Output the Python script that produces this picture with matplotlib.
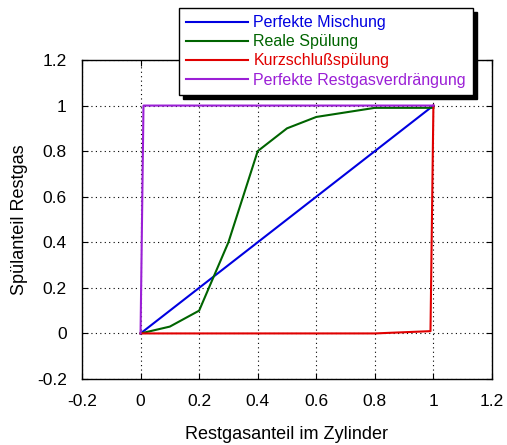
import matplotlib
matplotlib.use("Agg")
import matplotlib.pyplot as plt
import numpy as np
from matplotlib.ticker import FuncFormatter

plt.rcParams["font.family"] = ["Liberation Sans", "DejaVu Sans"]

# data
mix_x = [0, 1]
mix_y = [0, 1]
real_x = [0, 0.1, 0.2, 0.3, 0.4, 0.5, 0.6, 0.7, 0.8, 1.0]
real_y = [0, 0.03, 0.1, 0.4, 0.8, 0.9, 0.95, 0.97, 0.99, 0.99]
short_x = [0, 0.8, 0.99, 1.0]
short_y = [0, 0, 0.01, 1.0]
displ_x = [0, 0.01, 1.0]
displ_y = [0, 1.0, 1.0]
ticks = [-0.2, 0, 0.2, 0.4, 0.6, 0.8, 1, 1.2]

fig = plt.figure(figsize=(5.07, 4.45), dpi=100)
ax = fig.add_axes([0.1617, 0.1483, 0.8087, 0.7169])

l1, = ax.plot(mix_x, mix_y, color="#0000e0", lw=1.5, label="Perfekte Mischung")
l2, = ax.plot(real_x, real_y, color="#006400", lw=1.5, label="Reale Spülung")
l3, = ax.plot(short_x, short_y, color="#e00000", lw=1.5, label="Kurzschlußspülung")
l4, = ax.plot(displ_x, displ_y, color="#9b1fd6", lw=1.5, label="Perfekte Restgasverdrängung")

ax.set_xlim(-0.2, 1.2)
ax.set_ylim(-0.2, 1.2)
ax.set_xticks(ticks)
ax.set_yticks(ticks)
fmt = FuncFormatter(lambda v, p: "%g" % round(v, 2))
ax.xaxis.set_major_formatter(fmt)
ax.yaxis.set_major_formatter(fmt)
ax.tick_params(direction="in", top=True, right=True, length=4, labelsize=12.5)
ax.tick_params(axis="x", pad=11)
ax.tick_params(axis="y", pad=11)
ax.grid(True, color="black", linestyle=(0, (1, 3)), lw=0.8)
ax.set_xlabel("Restgasanteil im Zylinder", fontsize=13, labelpad=12)
ax.set_ylabel("Spülanteil Restgas", fontsize=13, labelpad=6)
for s in ax.spines.values():
    s.set_linewidth(1.0)

leg = fig.legend(handles=[l1, l2, l3, l4], loc="upper left",
                 bbox_to_anchor=(179 / 507, 1 - 8 / 445),
                 fancybox=False, edgecolor="black", framealpha=1,
                 shadow={"ox": 3, "oy": -3, "facecolor": "black",
                         "edgecolor": "black", "alpha": 1},
                 labelcolor="linecolor", fontsize=11.5, handlelength=3.9,
                 handletextpad=0.3, labelspacing=0.26, borderpad=0.45,
                 borderaxespad=0)
leg.get_frame().set_linewidth(1.0)

fig.savefig("out.png", dpi=100)
